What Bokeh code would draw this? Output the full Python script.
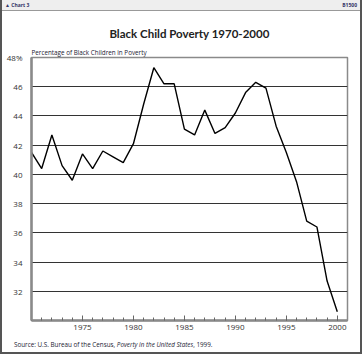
from bokeh.plotting import figure
from bokeh.models import Range1d, FixedTicker, Title, Div
from bokeh.layouts import column
from bokeh.embed import file_html
from bokeh.resources import INLINE

years = list(range(1970, 2001))
poverty = [41.5, 40.4, 42.7, 40.6, 39.6, 41.4, 40.4, 41.6, 41.2, 40.8,
           42.1, 44.8, 47.3, 46.2, 46.2, 43.1, 42.7, 44.4, 42.8, 43.2,
           44.2, 45.6, 46.3, 45.9, 43.3, 41.5, 39.5, 36.8, 36.4, 32.7, 30.6]
y_ticks = [32, 34, 36, 38, 40, 42, 44, 46, 48]
x_ticks = [1975, 1980, 1985, 1990, 1995, 2000]

title = "Black Child Poverty 1970-2000"
y_title = "Percentage of Black Children in Poverty"
header_left = "\u25b2 Chart 3"
header_right = "B1500"
src_a = "Source: U.S. Bureau of the Census, "
src_b = "Poverty in the United States"
src_c = ", 1999."
FONT = "Open Sans"

p = figure(width=358, height=327, output_backend="svg", toolbar_location=None,
           x_range=Range1d(1970, 2001), y_range=Range1d(30, 48),
           min_border_left=29, min_border_right=13, min_border_top=46, min_border_bottom=18,
           margin=0)
p.title.visible = False

p.outline_line_color = "#8a8a8a"
p.outline_line_width = 1.5
p.background_fill_color = "white"
p.border_fill_color = "white"

p.xgrid.visible = False
p.ygrid.ticker = FixedTicker(ticks=y_ticks)
p.ygrid.grid_line_color = "#333333"
p.ygrid.grid_line_width = 1.2

p.yaxis.ticker = FixedTicker(ticks=y_ticks)
p.yaxis.major_label_overrides = {48: "48%"}
p.yaxis.major_tick_line_color = None
p.yaxis.minor_tick_line_color = None
p.yaxis.axis_line_color = "#8a8a8a"
p.yaxis.axis_line_width = 2.5
p.yaxis.major_label_text_font = FONT
p.yaxis.major_label_text_font_size = "8px"
p.yaxis.major_label_text_color = "#333333"
p.yaxis.major_label_standoff = 3

p.xaxis.ticker = FixedTicker(ticks=x_ticks, minor_ticks=years)
p.xaxis.axis_line_color = "#8a8a8a"
p.xaxis.axis_line_width = 2.5
p.xaxis.major_tick_in = 5
p.xaxis.major_tick_out = 0
p.xaxis.minor_tick_in = 3
p.xaxis.minor_tick_out = 0
p.xaxis.major_tick_line_color = "#666666"
p.xaxis.minor_tick_line_color = "#666666"
p.xaxis.major_label_text_font = FONT
p.xaxis.major_label_text_font_size = "8px"
p.xaxis.major_label_text_color = "#333333"
p.xaxis.major_label_standoff = 4

p.line(years, poverty, line_color="black", line_width=1.4)

p.add_layout(Title(text=y_title, align="left", text_font=FONT, text_font_size="6.3px",
                   text_font_style="normal", text_color="#222233", standoff=2), "above")
p.add_layout(Title(text=title, align="center", offset=-4, text_font="Lato",
                   text_font_size="11.5px", text_font_style="bold", text_color="#222222",
                   standoff=10), "above")

header = Div(text=('<div style="width:358px;box-sizing:border-box;display:flex;'
                   'justify-content:space-between;padding:0 3px;line-height:10px;">'
                   f'<span>{header_left}</span><span>{header_right}</span></div>'),
             width=358, height=11, margin=0,
             styles={"background-color": "#eeeeee", "border-bottom": "1px solid #999999",
                     "font-family": FONT, "font-size": "5px", "font-weight": "bold",
                     "color": "#333366", "box-sizing": "border-box"})

source = Div(text=f'{src_a}<i>{src_b}</i>{src_c}', width=358, height=14, margin=0,
             styles={"font-family": FONT, "font-size": "6.3px", "color": "#222233",
                     "padding-left": "12px", "line-height": "14px",
                     "box-sizing": "border-box"})

layout = column(header, p, source, margin=0, spacing=0,
                styles={"border-left": "2px solid #555555",
                        "border-right": "2px solid #555555",
                        "border-bottom": "2px solid #555555"})

open("out.html", "w").write(file_html(layout, INLINE))
